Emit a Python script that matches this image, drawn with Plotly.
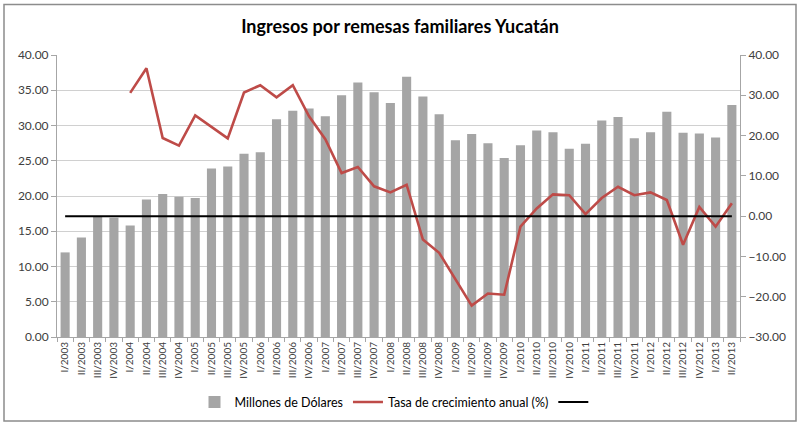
import plotly.graph_objects as go

categories = [
    "I/2003", "II/2003", "III/2003", "IV/2003",
    "I/2004", "II/2004", "III/2004", "IV/2004",
    "I/2005", "II/2005", "III/2005", "IV/2005",
    "I/2006", "II/2006", "III/2006", "IV/2006",
    "I/2007", "II/2007", "III/2007", "IV/2007",
    "I/2008", "II/2008", "III/2008", "IV/2008",
    "I/2009", "II/2009", "III/2009", "IV/2009",
    "I/2010", "II/2010", "III/2010", "IV/2010",
    "I/2011", "II/2011", "III/2011", "IV/2011",
    "I/2012", "II/2012", "III/2012", "IV/2012",
    "I/2013", "II/2013",
]

millones = [
    12.0, 14.1, 17.1, 16.9,
    15.8, 19.5, 20.3, 19.9,
    19.7, 23.9, 24.2, 26.0,
    26.2, 30.9, 32.1, 32.4,
    31.3, 34.3, 36.1, 34.7,
    33.2, 36.9, 34.1, 31.6,
    27.9, 28.8, 27.5, 25.4,
    27.2, 29.3, 29.05, 26.7,
    27.4, 30.7, 31.2, 28.2,
    29.05, 31.95, 28.96, 28.87,
    28.3, 32.9,
]

tasa = [
    None, None, None, None,
    30.6, 36.7, 19.4, 17.5,
    25.0, 22.2, 19.3, 30.7,
    32.5, 29.5, 32.5, 24.8,
    19.1, 10.7, 12.2, 7.4,
    5.9, 7.8, -5.8, -9.1,
    -15.7, -22.2, -19.2, -19.5,
    -2.6, 1.9, 5.4, 5.2,
    0.5, 4.5, 7.3, 5.2,
    5.9, 4.0, -7.1, 2.3,
    -2.6, 3.2,
]

cero = [0.0] * len(categories)

left_ticks = [0, 5, 10, 15, 20, 25, 30, 35, 40]
right_ticks = [-30, -20, -10, 0, 10, 20, 30, 40]

font_family = "Lato, Open Sans, sans-serif"
axis_color = "#a6a6a6"
text_color = "#404040"

fig = go.Figure()

fig.add_trace(go.Bar(
    x=categories, y=millones, name="Millones de Dólares",
    marker=dict(color="#a5a5a5", line=dict(width=0)),
    yaxis="y",
))
fig.add_trace(go.Scatter(
    x=categories, y=tasa, name="Tasa de crecimiento anual (%)",
    mode="lines", line=dict(color="#be4b48", width=2.6),
    yaxis="y2", connectgaps=False,
))
fig.add_trace(go.Scatter(
    x=categories, y=cero, name=" ",
    mode="lines", line=dict(color="#000000", width=2),
    yaxis="y2",
))

fig.update_layout(
    width=800, height=430,
    margin=dict(l=57, r=60, t=55, b=90),
    paper_bgcolor="white", plot_bgcolor="white",
    font=dict(family=font_family, size=11, color=text_color),
    title=dict(
        text="<b>Ingresos por remesas familiares Yucatán</b>",
        x=0.5, xanchor="center", y=1 - 27 / 430, yanchor="middle",
        font=dict(family=font_family, size=18, color="#000000"),
    ),
    bargap=0.44,
    showlegend=True,
    legend=dict(
        orientation="h", x=0.5, xanchor="center",
        y=-0.232, yanchor="middle",
        font=dict(family=font_family, size=12.5, color="#000000"),
        bgcolor="rgba(0,0,0,0)",
        itemwidth=30,
    ),
    xaxis=dict(
        type="category", tickangle=-90,
        showline=True, linecolor=axis_color, linewidth=1,
        ticks="outside", tickson="boundaries", ticklen=4, tickcolor=axis_color,
        showgrid=False, zeroline=False,
        tickfont=dict(size=10, color=text_color),
        automargin=False,
    ),
    yaxis=dict(
        range=[0, 40], tickvals=left_ticks, tickformat=".2f",
        showline=True, linecolor=axis_color, linewidth=1,
        ticks="outside", ticklen=5, tickcolor=axis_color,
        showgrid=True, gridcolor="#d0d0d0", gridwidth=1,
        zeroline=False,
        tickfont=dict(size=12, color=text_color),
        automargin=False,
    ),
    yaxis2=dict(
        range=[-30, 40], tickvals=right_ticks, tickformat=".2f",
        overlaying="y", side="right",
        showline=True, linecolor=axis_color, linewidth=1,
        ticks="outside", ticklen=5, tickcolor=axis_color,
        showgrid=False, zeroline=False,
        tickfont=dict(size=12, color=text_color),
        automargin=False,
    ),
    shapes=[dict(
        type="rect", xref="paper", yref="paper",
        x0=(4 - 57) / 683, x1=(796 - 57) / 683,
        y0=(340 - 425) / 285, y1=(340 - 4) / 285,
        line=dict(color="#8c8c8c", width=1.5),
        fillcolor="rgba(0,0,0,0)", layer="below",
    )],
)

fig.write_html(
    "out.html",
    config={"displayModeBar": False},
    post_script="document.body.style.margin='0';document.body.style.overflow='hidden';",
)
